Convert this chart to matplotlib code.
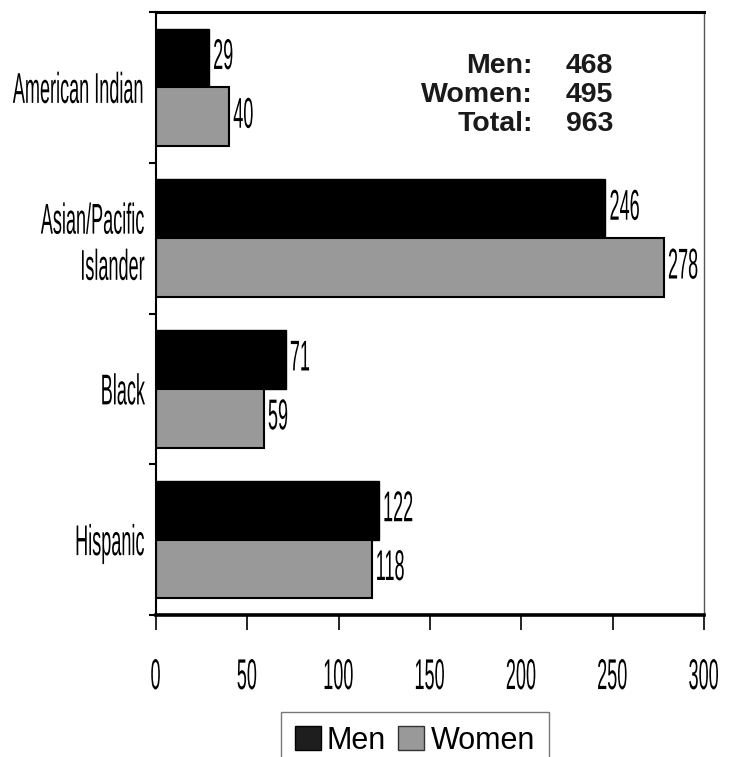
import matplotlib
matplotlib.use("Agg")
import numpy as np
import matplotlib.pyplot as plt
from matplotlib import patheffects
from matplotlib.patches import Patch
from matplotlib.transforms import Affine2D

plt.rcParams['font.family'] = ['Liberation Sans', 'DejaVu Sans']

groups = ['American Indian', 'Asian/Pacific\nIslander', 'Black', 'Hispanic']
men = [29, 246, 71, 122]
women = [40, 278, 59, 118]
x_ticks = [0, 50, 100, 150, 200, 250, 300]
totals_labels = ['Men:', 'Women:', 'Total:']
totals_values = [468, 495, 963]


class Squeeze(patheffects.AbstractPathEffect):
    """Draw text narrower than the font, like the condensed type of the original."""
    def __init__(self, sx=0.5, anchor='left'):
        super().__init__()
        self.sx = sx
        self.anchor = anchor

    def draw_path(self, renderer, gc, tpath, affine, rgbFace=None):
        xs = tpath.vertices[:, 0]
        if len(xs) == 0:
            return
        if self.anchor == 'right':
            cx = xs.max()
        elif self.anchor == 'center':
            cx = (xs.min() + xs.max()) / 2
        else:
            cx = xs.min()
        sq = Affine2D().translate(-cx, 0).scale(self.sx, 1).translate(cx, 0)
        renderer.draw_path(gc, tpath, sq + affine, rgbFace)


SX = 0.42
FS = 31

fig = plt.figure(figsize=(7.36, 7.57), dpi=100)
ax = fig.add_axes([156 / 736, 1 - 615 / 757, 548 / 736, 603 / 757])

y = np.arange(len(groups))
ax.barh(y - 0.195, men, height=0.39, color='black', edgecolor='black', linewidth=1)
ax.barh(y + 0.195, women, height=0.39, color='#999999', edgecolor='black', linewidth=1.5)

for i in range(len(groups)):
    for val, off in ((men[i], -0.195), (women[i], 0.195)):
        t = ax.annotate(str(val), (val, i + off), xytext=(3, 0), textcoords='offset points',
                        ha='left', va='center', fontsize=FS)
        t.set_path_effects([Squeeze(SX, 'left')])

ax.set_xlim(0, 300)
ax.set_ylim(3.5, -0.5)
ax.set_xticks(x_ticks)
ax.set_xticklabels([str(v) for v in x_ticks], fontsize=FS)
ax.set_yticks(y)
ax.set_yticklabels(groups, fontsize=FS)
ax.set_yticks(np.arange(-0.5, 4, 1), minor=True)

ax.tick_params(axis='y', which='major', length=0, pad=8)
ax.tick_params(axis='y', which='minor', direction='out', length=5, width=1.5)
ax.tick_params(axis='x', direction='out', length=11, width=1.2, pad=20)

for lab in ax.get_xticklabels():
    lab.set_path_effects([Squeeze(SX, 'center')])
for lab in ax.get_yticklabels():
    lab.set_path_effects([Squeeze(SX, 'right')])
    lab.set_linespacing(1.2)

ax.spines['top'].set_linewidth(2.2)
ax.spines['bottom'].set_linewidth(2.6)
ax.spines['left'].set_linewidth(1.5)
ax.spines['right'].set_linewidth(1.0)
ax.spines['right'].set_color('#555555')

# totals box in the upper right
for k, (lab, val) in enumerate(zip(totals_labels, totals_values)):
    yy = 1 - (73 + 29 * k) / 757
    fig.text(533 / 736, yy, lab, ha='right', va='baseline', fontsize=20.5, fontweight='bold', color='#1a1a1a')
    fig.text(613 / 736, yy, str(val), ha='right', va='baseline', fontsize=20.5, fontweight='bold', color='#1a1a1a')

handles = [Patch(facecolor='#1e1e1e', edgecolor='black', linewidth=1),
           Patch(facecolor='#999999', edgecolor='#333333', linewidth=1)]
fig.legend(handles, ['Men', 'Women'], loc='upper left', bbox_to_anchor=(281 / 736, 1 - 712 / 757),
           ncol=2, fontsize=22, frameon=True, fancybox=False, edgecolor='#555555',
           handlelength=0.85, handleheight=0.85, handletextpad=0.2, columnspacing=0.4,
           borderpad=0.45, borderaxespad=0)

fig.savefig('out.png', dpi=100)
